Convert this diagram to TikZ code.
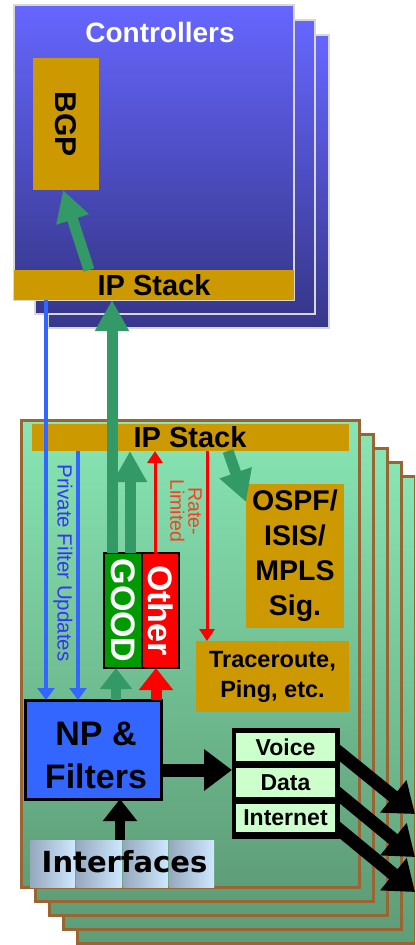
\documentclass[tikz,border=0pt]{standalone}
\usepackage{fontspec}
\setmainfont{Liberation Sans}
\newfontfamily\dvfont{DejaVu Sans}
\usetikzlibrary{arrows.meta,fit,calc}
\definecolor{gold}{HTML}{CC9900}
\definecolor{sgreen}{HTML}{339966}
\definecolor{pblue}{HTML}{3366FF}
\definecolor{ctop}{RGB}{102,102,255}
\definecolor{cbot}{RGB}{55,55,140}
\definecolor{cedge}{RGB}{215,215,215}
\definecolor{mtop}{RGB}{136,230,180}
\definecolor{mbot}{RGB}{94,158,120}
\definecolor{brn}{HTML}{996633}
\definecolor{goodg}{HTML}{009900}
\definecolor{qcell}{HTML}{CCFFCC}
\definecolor{ifl}{RGB}{150,168,190}
\definecolor{ifr}{RGB}{205,232,255}
\definecolor{ratered}{RGB}{255,60,30}
\definecolor{pfblue}{RGB}{51,51,255}
\begin{document}
\begin{tikzpicture}[x=1pt,y=-1pt,
  bx/.style={inner sep=0pt, outer sep=0pt},
  ctrlbox/.style={bx, draw=cedge, line width=2pt, top color=ctop, bottom color=cbot},
  cardbox/.style={bx, draw=brn, line width=3pt, top color=mtop, bottom color=mbot},
  goldbox/.style={bx, fill=gold},
  bold/.style={font=\bfseries\fontsize{#1}{#1}\selectfont},
  gar/.style={draw=sgreen, line width=11pt, -{Triangle[width=32pt,length=31pt]}},
  gsm/.style={draw=sgreen, line width=10pt, -{Triangle[width=31pt,length=21pt]}},
  rthin/.style={draw=red, line width=3pt, -{Triangle[width=15pt,length=12pt]}},
  rbig/.style={draw=red, line width=11pt, -{Triangle[width=33pt,length=22pt]}},
  bthin/.style={draw=pblue, line width=4pt, -{Triangle[width=17pt,length=12pt]}},
  kar/.style={draw=black, line width=13pt, -{Triangle[width=40pt,length=28pt]}},
  karv/.style={draw=black, line width=10pt, -{Triangle[width=33pt,length=22pt]}},
  tile/.style={bx, left color=ifl, right color=ifr}
]
\clip (0,0) rectangle (415,945);
\fill[white] (0,0) rectangle (415,945);

% ---------- Controllers stack ----------
\node[ctrlbox, fit={(48,35) (329,328)}] (c3) {};
\node[ctrlbox, fit={(35,20) (315,314)}] (c2) {};
\node[ctrlbox, fit={(14,5) (294,300)}] (c1) {};
\node[bold=28, text=white] (ctrl) at (160,32) {Controllers};
\node[goldbox, fit={(33,58) (99,190)}] (bgp) {};
\node[bold=30, rotate=-90] (bgpt) at (bgp.center) {BGP};
\node[goldbox, fit={(14,270) (294,300)}] (ipA) {};
\node[bold=29] (ipAt) at (ipA.center) {IP Stack};
\coordinate (bgpfrom) at (89,270);
\coordinate (bgpto) at (63,190);
\draw[gar] (bgpfrom) -- (bgpto);

% ---------- Line card stack ----------
\foreach \k in {4,3,2,1}{
  \node[cardbox, fit={({21+14*\k},{420+14*\k}) ({359+14*\k},{887+14*\k})}] (card\k) {};
}
\node[cardbox, fit={(21,420) (359,887)}] (card0) {};
\node[goldbox, fit={(32,424) (349,451)}] (ipB) {};
\node[bold=29] (ipBt) at (190,437) {IP Stack};

\node[goldbox, fit={(246,484) (344,628)}] (ospf) {};
\node[align=center, font=\bfseries\fontsize{28.5}{35}\selectfont] (ospft) at (ospf.center) {OSPF/\\ISIS/\\MPLS\\Sig.};
\node[goldbox, fit={(196,641) (349,712)}] (trace) {};
\node[align=center, font=\bfseries\fontsize{23.5}{30}\selectfont] (tracet) at (trace.center) {Traceroute,\\Ping, etc.};

\node[bx, fill=goodg, draw=black, line width=2pt, fit={(104,553) (142,668)}] (good) {};
\node[bx, fill=red, draw=black, line width=2pt, fit={(142,553) (179,668)}] (other) {};
\node[bold=34, text=white, rotate=-90] (goodt) at (good.center) {GOOD};
\node[bold=34, text=white, rotate=-90] (othert) at (other.center) {Other};

\node[bx, fill=pblue, draw=black, line width=3pt, fit={(25,700) (161,799)}] (np) {};
\node[align=center, font=\bfseries\fontsize{34}{43}\selectfont] (npt) at (96,755) {NP \&\\Filters};

% interfaces
\node[tile, fit={(30,840) (75,887)}] (if1) {};
\node[tile, fit={(76,840) (122,887)}] (if2) {};
\node[tile, fit={(123,840) (168,887)}] (if3) {};
\node[tile, fit={(169,840) (214,887)}] (if4) {};
\node[font=\dvfont\bfseries\fontsize{29}{29}\selectfont] (ift) at (124.5,862) {Interfaces};

% queue arrows (under the queue box)
\coordinate (q1) at (330,745);
\coordinate (q2) at (330,787);
\coordinate (q3) at (330,822);
\coordinate (t1) at (415,814);
\coordinate (t2) at (415,857);
\coordinate (t3) at (415,892);
\draw[kar] (q1) -- (t1);
\draw[kar] (q2) -- (t2);
\draw[kar] (q3) -- (t3);

\node[bx, fill=black, fit={(232,728) (340,839)}] (queue) {};
\node[bx, fill=qcell, fit={(236,733) (335,761)}] (voice) {};
\node[bx, fill=qcell, fit={(236,768) (335,797)}] (data) {};
\node[bx, fill=qcell, fit={(236,804) (335,832)}] (inet) {};
\node[bold=23] at (voice.center) {Voice};
\node[bold=23] at (data.center) {Data};
\node[bold=23] at (inet.center) {Internet};

% ---------- connectors ----------
\draw[kar] (np.east |- 0,770) -- (queue.west |- 0,770);
\draw[karv] (if2.north -| 120,0) -- (np.south -| 120,0);

\draw[gsm] (np.north -| 116,0) -- (good.south -| 116,0);
\draw[rbig] (np.north -| 156,0) -- (other.south -| 156,0);

\draw[gar] (good.north -| 112,0) -- (ipA.south -| 112,0);
\draw[gar] (good.north -| 130,0) -- (ipB.south -| 130,0);
\draw[rthin] (other.north -| 155,0) -- (ipB.south -| 155,0);
\draw[rthin] (ipB.south -| 207,0) -- (trace.north -| 207,0);
\coordinate (ospffrom) at (228,451);
\draw[gar] (ospffrom) -- (ospf.north west |- 0,502) ;

\draw[bthin] (ipA.south -| 46,0) -- (np.north -| 46,0);
\draw[bthin] (ipB.south -| 78,0) -- (np.north -| 78,0);

\node[rotate=-90, text=pfblue, font=\fontsize{20.5}{20}\selectfont] (pfu) at (63,563) {Private Filter Updates};
\node[rotate=-90, text=ratered, align=center, font=\fontsize{19.5}{18}\selectfont] (rl) at (186,511) {Rate-\\Limited};
\end{tikzpicture}
\end{document}
